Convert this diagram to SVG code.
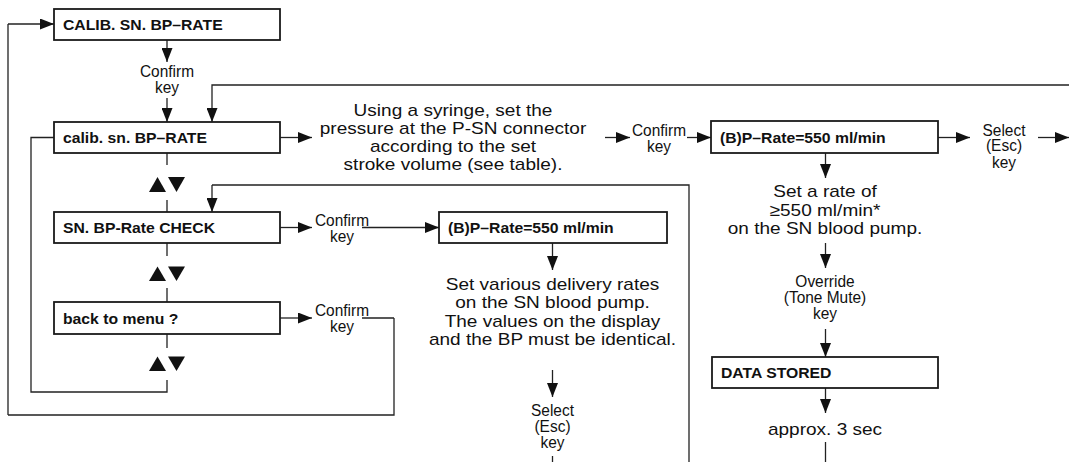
<svg xmlns="http://www.w3.org/2000/svg" width="1069" height="462" viewBox="0 0 1069 462">
<style>
text{font-family:"Liberation Sans",Arial,Helvetica,sans-serif;fill:#111}
.b{font-size:15px;font-weight:bold}
.s{font-size:16.2px;text-anchor:middle}
.d{font-size:17px;text-anchor:middle}
.box{fill:#fff;stroke:#1a1a1a;stroke-width:1.8}
.ln{fill:none;stroke:#222;stroke-width:1.3}
.ar{fill:none;stroke:#222;stroke-width:1.3;marker-end:url(#ah)}
.tri{fill:#111}
</style>
<defs>
<marker id="ah" markerUnits="userSpaceOnUse" markerWidth="14" markerHeight="11" refX="14" refY="5.5" orient="auto">
<path d="M0,0 L14,5.5 L0,11 Z" fill="#111"/>
</marker>
</defs>
<rect width="1069" height="462" fill="#fff"/>

<g id="connectors">
<path class="ln" d="M394,318 H362 M8,415 H394 V318 M8,415 V24"/>
<path class="ar" d="M8,24 H54"/>
<path class="ar" d="M167,40 V62"/>
<path class="ar" d="M167,98 V122"/>
<path class="ar" d="M1069,85 H212 V122"/>
<path class="ar" d="M280,137.5 H312"/>
<path class="ar" d="M605,137.5 H630"/>
<path class="ar" d="M687,137.5 H711"/>
<path class="ar" d="M938,137.5 H970"/>
<path class="ar" d="M1038,137.5 H1069"/>
<path class="ln" d="M167,153 V165 M167,200 V212 M167,243 V256 M167,288 V302 M167,334 V348 M167,380 V392 H31 V137.5 H54"/>
<path class="ln" d="M689,462 V185 H212"/>
<path class="ar" d="M212,185 V212"/>
<path class="ar" d="M280,227.5 H312"/>
<path class="ar" d="M362,227.5 H439"/>
<path class="ar" d="M280,318 H312"/>
<path class="ar" d="M552.5,243 V270"/>
<path class="ar" d="M552.5,370 V397"/>
<path class="ln" d="M552.5,456 V462"/>
<path class="ar" d="M825.5,153 V178"/>
<path class="ar" d="M825.5,243 V268"/>
<path class="ar" d="M825.5,329 V357"/>
<path class="ar" d="M825.5,388 V413"/>
<path class="ln" d="M825.5,442 V462"/>
<polygon class="tri" points="149,192 157.5,177 166,192"/>
<polygon class="tri" points="168,177 185,177 176.5,192"/>
<polygon class="tri" points="149,281 157.5,266.5 166,281"/>
<polygon class="tri" points="168,266.5 185,266.5 176.5,281"/>
<polygon class="tri" points="149,371 157.5,356.5 166,371"/>
<polygon class="tri" points="168,356.5 185,356.5 176.5,371"/>
</g>

<g id="n_calib_top">
<rect class="box" x="54" y="9" width="226" height="31"/>
<text class="b" transform="translate(63,30) scale(1.05,1)">CALIB. SN. BP–RATE</text>
</g>
<g id="l_confirm1">
<text class="s" transform="translate(167,76.5) scale(0.955,1)">Confirm</text>
<text class="s" transform="translate(167,92.5) scale(0.955,1)">key</text>
</g>
<g id="n_calib_sn">
<rect class="box" x="54" y="122" width="226" height="31"/>
<text class="b" transform="translate(63,143) scale(1.05,1)">calib. sn. BP–RATE</text>
</g>
<g id="t_syringe">
<text class="d" transform="translate(453,115.5) scale(1.12,1)">Using a syringe, set the</text>
<text class="d" transform="translate(453,133.5) scale(1.12,1)">pressure at the P-SN connector</text>
<text class="d" transform="translate(453,151.5) scale(1.12,1)">according to the set</text>
<text class="d" transform="translate(453,169.5) scale(1.12,1)">stroke volume (see table).</text>
</g>
<g id="l_confirm2">
<text class="s" transform="translate(659,135.5) scale(0.955,1)">Confirm</text>
<text class="s" transform="translate(659,151.5) scale(0.955,1)">key</text>
</g>
<g id="n_prate_top">
<rect class="box" x="711" y="121" width="227" height="32"/>
<text class="b" transform="translate(720,143) scale(1.05,1)">(B)P–Rate=550 ml/min</text>
</g>
<g id="l_select1">
<text class="s" transform="translate(1004,135.5) scale(0.955,1)">Select</text>
<text class="s" transform="translate(1004,151) scale(0.955,1)">(Esc)</text>
<text class="s" transform="translate(1004,167.5) scale(0.955,1)">key</text>
</g>
<g id="t_rate">
<text class="d" transform="translate(825,197) scale(1.12,1)">Set a rate of</text>
<text class="d" transform="translate(825,215.5) scale(1.12,1)">≥550 ml/min*</text>
<text class="d" transform="translate(825,234) scale(1.12,1)">on the SN blood pump.</text>
</g>
<g id="l_override">
<text class="s" transform="translate(825,287) scale(0.955,1)">Override</text>
<text class="s" transform="translate(825,303) scale(0.955,1)">(Tone Mute)</text>
<text class="s" transform="translate(825,319) scale(0.955,1)">key</text>
</g>
<g id="n_data">
<rect class="box" x="712" y="357" width="226" height="31"/>
<text class="b" transform="translate(721,378) scale(1.05,1)">DATA STORED</text>
</g>
<g id="t_approx">
<text class="d" transform="translate(825,435) scale(1.12,1)">approx. 3 sec</text>
</g>
<g id="n_check">
<rect class="box" x="54" y="212" width="226" height="31"/>
<text class="b" transform="translate(63,233) scale(1.05,1)">SN. BP-Rate CHECK</text>
</g>
<g id="l_confirm3">
<text class="s" transform="translate(342,225.5) scale(0.955,1)">Confirm</text>
<text class="s" transform="translate(342,241.5) scale(0.955,1)">key</text>
</g>
<g id="n_prate_mid">
<rect class="box" x="439" y="212" width="228" height="31"/>
<text class="b" transform="translate(448,233) scale(1.05,1)">(B)P–Rate=550 ml/min</text>
</g>
<g id="t_various">
<text class="d" transform="translate(552.5,289.5) scale(1.12,1)">Set various delivery rates</text>
<text class="d" transform="translate(552.5,308) scale(1.12,1)">on the SN blood pump.</text>
<text class="d" transform="translate(552.5,326.5) scale(1.12,1)">The values on the display</text>
<text class="d" transform="translate(552.5,345) scale(1.12,1)">and the BP must be identical.</text>
</g>
<g id="l_select2">
<text class="s" transform="translate(552.5,416) scale(0.955,1)">Select</text>
<text class="s" transform="translate(552.5,432) scale(0.955,1)">(Esc)</text>
<text class="s" transform="translate(552.5,448) scale(0.955,1)">key</text>
</g>
<g id="n_back">
<rect class="box" x="54" y="302" width="226" height="32"/>
<text class="b" transform="translate(63,323.5) scale(1.05,1)">back to menu ?</text>
</g>
<g id="l_confirm4">
<text class="s" transform="translate(342,316) scale(0.955,1)">Confirm</text>
<text class="s" transform="translate(342,332) scale(0.955,1)">key</text>
</g>
</svg>
